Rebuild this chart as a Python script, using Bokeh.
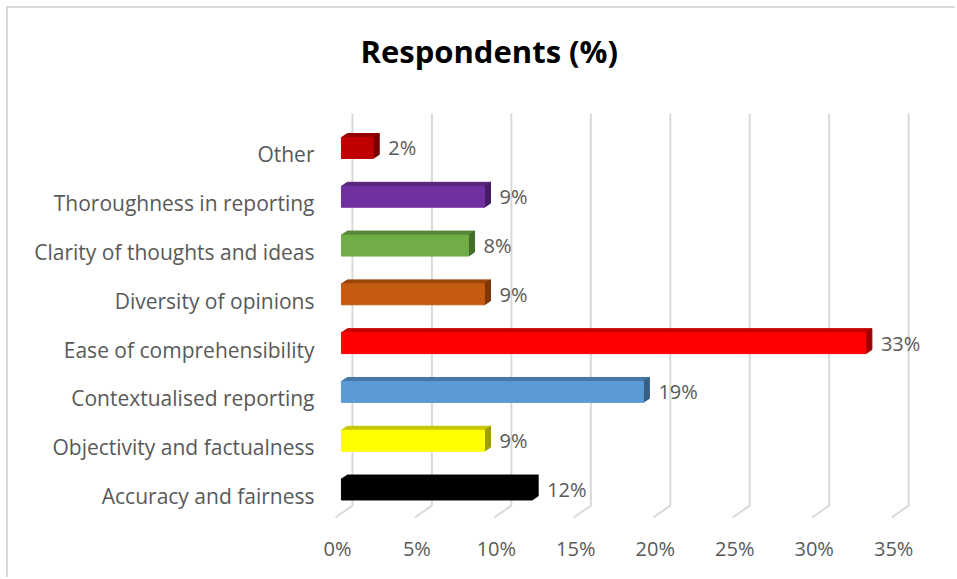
from bokeh.plotting import figure
from bokeh.models import Range1d, FixedTicker, ColumnDataSource, LinearAxis
from bokeh.core.properties import value
from bokeh.embed import file_html
from bokeh.resources import INLINE

# ---- data ----
categories = ["Accuracy and fairness", "Objectivity and factualness", "Contextualised reporting",
              "Ease of comprehensibility", "Diversity of opinions", "Clarity of thoughts and ideas",
              "Thoroughness in reporting", "Other"]
values = [12, 9, 19, 33, 9, 8, 9, 2]
colors = ["#000000", "#FFFF00", "#5B9BD5", "#FF0000", "#C55A11", "#70AD47", "#7030A0", "#C00000"]
x_ticks = [0, 5, 10, 15, 20, 25, 30, 35]
x_tick_labels = ["0%", "5%", "10%", "15%", "20%", "25%", "30%", "35%"]
title_text = "Respondents (%)"

# ---- geometry (pixels -> data units) ----
PX_X = 588 / 37.0
PX_Y = 48.9
FONT = "Open Sans"
GRAY = "#595959"

def shade(hexcol, f):
    h = hexcol.lstrip("#")
    r, g, b = (int(h[i:i + 2], 16) for i in (0, 2, 4))
    return "#%02x%02x%02x" % (int(r * f), int(g * f), int(b * f))

p = figure(width=949, height=571, output_backend="svg", toolbar_location=None,
           x_range=Range1d(-0.5, 36.5), y_range=Range1d(-0.607, 8.309),
           x_axis_location=None, y_axis_location="left",
           min_border_left=325, min_border_right=36, min_border_top=81, min_border_bottom=54)
p.grid.visible = False
p.outline_line_color = None
p.background_fill_color = "white"
p.border_fill_color = "white"
p.styles = {"margin-left": "8px", "margin-top": "8px",
            "box-shadow": "-2px -2px 0 0 #D9D9D9"}

# title
p.title.text = title_text
p.title.align = "left"
p.title.offset = 27
p.title.text_font = FONT
p.title.text_font_style = "bold"
p.title.text_font_size = "31px"
p.title.text_color = "black"
p.title.standoff = 38

# y (category) axis
yax = p.yaxis[0]
yax.ticker = FixedTicker(ticks=list(range(len(categories))))
yax.major_label_overrides = {i: c for i, c in enumerate(categories)}
yax.axis_line_color = None
yax.major_tick_line_color = None
yax.minor_tick_line_color = None
yax.major_label_standoff = 13
yax.major_label_text_font = FONT
yax.major_label_text_font_size = "21px"
yax.major_label_text_color = GRAY

# x axis on a range shifted to the floor front edge
shift = 4 / PX_X
p.extra_x_ranges = {"floor": Range1d(-0.5 + shift, 36.5 + shift)}
xax = LinearAxis(x_range_name="floor")
xax.ticker = FixedTicker(ticks=x_ticks)
xax.major_label_overrides = {t: l for t, l in zip(x_ticks, x_tick_labels)}
xax.axis_line_color = None
xax.major_tick_line_color = None
xax.minor_tick_line_color = None
xax.major_label_standoff = 3
xax.major_label_text_font = FONT
xax.major_label_text_font_size = "20px"
xax.major_label_text_color = GRAY
p.add_layout(xax, "below")

# gridlines on back wall with slanted floor feet
gx = 11 / PX_X
fx = -6 / PX_X
y_top = 7 + (153 - 112) / PX_Y
y_floor = 7 - (505 - 153) / PX_Y
y_foot = 7 - (517 - 153) / PX_Y
p.multi_line(xs=[[t + gx, t + gx, t + fx] for t in x_ticks],
             ys=[[y_top, y_floor, y_foot] for _ in x_ticks],
             line_color="#D9D9D9", line_width=2)

# 3D bars
bar_shift = 6.4 / PX_Y
h = 21 / PX_Y
dx = 6 / PX_X
dy = 4 / PX_Y
ys = [i + bar_shift for i in range(len(categories))]

top_xs, top_ys, side_xs, side_ys, top_c, side_c = [], [], [], [], [], []
for yc, v, c in zip(ys, values, colors):
    t = yc + h / 2
    b = yc - h / 2
    top_xs.append([0, dx, v + dx, v])
    top_ys.append([t, t + dy, t + dy, t])
    side_xs.append([v, v, v + dx, v + dx])
    side_ys.append([b, t, t + dy, b + dy])
    top_c.append(shade(c, 0.78))
    side_c.append(shade(c, 0.62))

p.patches(xs=top_xs, ys=top_ys, fill_color=top_c, line_color=top_c, line_width=1)
p.patches(xs=side_xs, ys=side_ys, fill_color=side_c, line_color=side_c, line_width=1)

src = ColumnDataSource(dict(y=ys, v=values, color=colors,
                            label=["%d%%" % v for v in values]))
p.hbar(y="y", left=0, right="v", height=h, fill_color="color", line_color="color", source=src)

p.text(x="v", y="y", text="label", source=src, x_offset=15, text_baseline="middle",
       text_align="left", text_font=value(FONT), text_font_size="20px", text_color=GRAY)

open("out.html", "w").write(file_html(p, INLINE))
